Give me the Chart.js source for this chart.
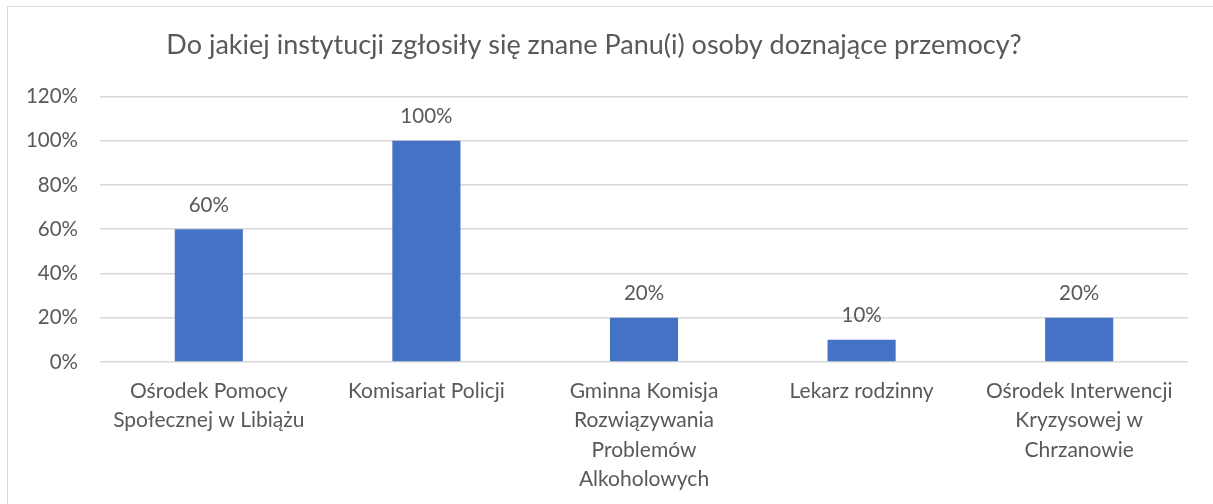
<!DOCTYPE html>
<html>
<head>
<meta charset="utf-8">
<script src="https://cdn.jsdelivr.net/npm/chart.js@4/dist/chart.umd.min.js"></script>
<style>
  html, body { margin: 0; padding: 0; background: #fff; overflow: hidden; }
  #frame {
    position: absolute; left: 7px; top: 6px; width: 1300px; height: 600px;
    border: 1px solid #d9d9d9; box-sizing: border-box;
  }
  #wrap { position: absolute; left: 0; top: 0; width: 1213px; height: 504px; }
</style>
</head>
<body>
<div id="frame"></div>
<div id="wrap"><canvas id="chart"></canvas></div>
<script>
// Chart data
const chartTitle = 'Do jakiej instytucji zgłosiły się znane Panu(i) osoby doznające przemocy?';
const categories = [
    ['Ośrodek Pomocy', 'Społecznej w Libiążu'],
    'Komisariat Policji',
    ['Gminna Komisja', 'Rozwiązywania', 'Problemów', 'Alkoholowych'],
    'Lekarz rodzinny',
    ['Ośrodek Interwencji', 'Kryzysowej w', 'Chrzanowie']
];
const percentValues = [60, 100, 20, 10, 20];
const yTicks = [0, 20, 40, 60, 80, 100, 120];

const textColor = '#595959';
const fontFamily = 'Lato, "Liberation Sans", sans-serif';

// Draw value labels above each bar
const barLabels = {
    id: 'barLabels',
    afterDatasetsDraw(chart) {
        const ctx = chart.ctx;
        const meta = chart.getDatasetMeta(0);
        ctx.save();
        ctx.font = '20.5px ' + fontFamily;
        ctx.fillStyle = textColor;
        ctx.textAlign = 'center';
        ctx.textBaseline = 'middle';
        meta.data.forEach((bar, i) => {
            ctx.fillText(percentValues[i] + '%', bar.x, bar.y - 24);
        });
        ctx.restore();
    }
};

const ctx = document.getElementById('chart').getContext('2d');
new Chart(ctx, {
    type: 'bar',
    data: {
        labels: categories,
        datasets: [{
            data: percentValues,
            backgroundColor: '#4472C4',
            categoryPercentage: 1,
            barPercentage: 0.313
        }]
    },
    options: {
        responsive: true,
        maintainAspectRatio: false,
        animation: false,
        layout: { padding: { top: 0, right: 25, bottom: 0, left: 0 } },
        plugins: {
            legend: { display: false },
            tooltip: { enabled: false },
            title: {
                display: true,
                text: chartTitle,
                color: textColor,
                font: { family: fontFamily, size: 27, weight: 'normal' },
                padding: { top: 29, bottom: 35 }
            }
        },
        scales: {
            x: {
                grid: { display: false, drawTicks: false },
                border: { display: false },
                ticks: {
                    color: textColor,
                    font: { family: fontFamily, size: 21, lineHeight: 1.41 },
                    padding: 14,
                    maxRotation: 0,
                    autoSkip: false
                },
                afterFit(scale) { scale.height = 142; }
            },
            y: {
                min: 0,
                max: 120,
                afterBuildTicks(scale) { scale.ticks = yTicks.map(v => ({ value: v })); },
                grid: { color: '#d9d9d9', lineWidth: 1.5, drawTicks: false },
                border: { display: false },
                ticks: {
                    color: textColor,
                    font: { family: fontFamily, size: 20.5 },
                    padding: 22,
                    callback: v => v + '%'
                },
                afterFit(scale) { scale.width = 100; }
            }
        }
    },
    plugins: [barLabels]
});
</script>
</body>
</html>
